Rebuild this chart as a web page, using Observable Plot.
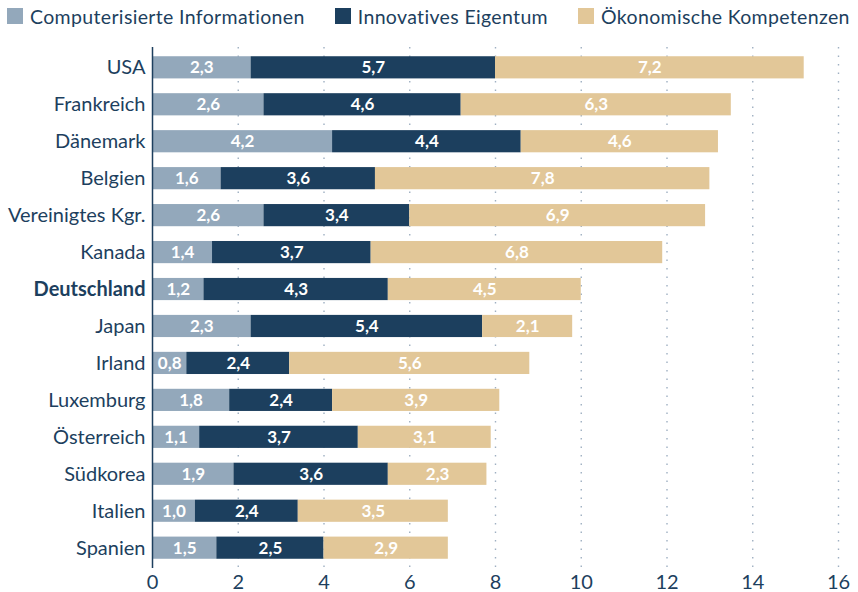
<!DOCTYPE html>
<html>
<head>
<meta charset="utf-8">
<script src="https://cdn.jsdelivr.net/npm/d3@7"></script>
<script src="https://cdn.jsdelivr.net/npm/@observablehq/plot@0.6"></script>
<style>
  html, body { margin: 0; padding: 0; background: #fff; }
  body { width: 858px; height: 592px; overflow: hidden; font-family: Lato, "Noto Sans", sans-serif; }
  #legend { height: 34px; display: flex; align-items: center; padding-left: 7px; color: #1d3f5e; font-size: 19.5px; letter-spacing: 0.35px; box-sizing: border-box; padding-bottom: 2px; white-space: nowrap; width: 858px; }
  .item { display: flex; align-items: center; margin-right: 30px; flex-shrink: 0; }
  .item:last-child { margin-right: 0; }
  .sw { width: 16px; height: 16px; margin-right: 7px; flex-shrink: 0; }
  #chart svg { display: block; }
</style>
</head>
<body>
<div id="legend"></div>
<div id="chart"></div>
<script>
const countries = ["USA","Frankreich","Dänemark","Belgien","Vereinigtes Kgr.","Kanada","Deutschland","Japan","Irland","Luxemburg","Österreich","Südkorea","Italien","Spanien"];
const series = ["Computerisierte Informationen","Innovatives Eigentum","Ökonomische Kompetenzen"];
const colors = ["#93a8bb","#1c3f5e","#e2c798"];
const computerisiert = [2.3,2.6,4.2,1.6,2.6,1.4,1.2,2.3,0.8,1.8,1.1,1.9,1.0,1.5];
const innovativ = [5.7,4.6,4.4,3.6,3.4,3.7,4.3,5.4,2.4,2.4,3.7,3.6,2.4,2.5];
const oekonomisch = [7.2,6.3,4.6,7.8,6.9,6.8,4.5,2.1,5.6,3.9,3.1,2.3,3.5,2.9];
const xTicks = [0,2,4,6,8,10,12,14,16];
const highlight = "Deutschland";

const textColor = "#1d3f5e";
const valuesBySeries = [computerisiert, innovativ, oekonomisch];
const data = [];
countries.forEach((c, i) => {
  series.forEach((s, j) => data.push({country: c, series: s, value: valuesBySeries[j][i]}));
});
const fmt = v => v.toFixed(1).replace(".", ",");

// legend
const legend = document.getElementById("legend");
series.forEach((s, j) => {
  const it = document.createElement("div");
  it.className = "item";
  const sw = document.createElement("div");
  sw.className = "sw";
  sw.style.background = colors[j];
  const t = document.createElement("span");
  t.textContent = s;
  it.appendChild(sw); it.appendChild(t);
  legend.appendChild(it);
});

const chart = Plot.plot({
  width: 858,
  height: 558,
  marginLeft: 152,
  marginRight: 20,
  marginTop: 13,
  marginBottom: 24,
  style: {fontFamily: "Lato, 'Noto Sans', sans-serif", color: textColor, background: "#fff"},
  x: {domain: [0, 16], ticks: xTicks},
  y: {domain: countries, paddingInner: 0.4, paddingOuter: 0.25, round: false},
  color: {domain: series, range: colors},
  marks: [
    Plot.gridX(xTicks.filter(d => d > 0), {stroke: "#9fb0c2", strokeOpacity: 1, strokeWidth: 1.4, strokeDasharray: "1.5,7"}),
    Plot.barX(data, Plot.stackX({y: "country", x: "value", fill: "series", order: null})),
    Plot.text(data, Plot.stackX({y: "country", x: "value", z: "series", order: null, text: d => fmt(d.value), fill: "white", fontSize: 17, fontWeight: 700})),
    Plot.ruleX([0], {stroke: textColor, strokeWidth: 1.5}),
    Plot.axisX(xTicks, {tickSize: 0, tickPadding: 6, fontSize: 20, fill: textColor, label: null, tickFormat: d => String(d)}),
    Plot.axisY(countries.filter(c => c !== highlight), {tickSize: 0, tickPadding: 7, fontSize: 20, fill: textColor, label: null}),
    Plot.axisY([highlight], {tickSize: 0, tickPadding: 7, fontSize: 20, fontWeight: 700, fill: textColor, label: null})
  ]
});
document.getElementById("chart").appendChild(chart);
</script>
</body>
</html>
